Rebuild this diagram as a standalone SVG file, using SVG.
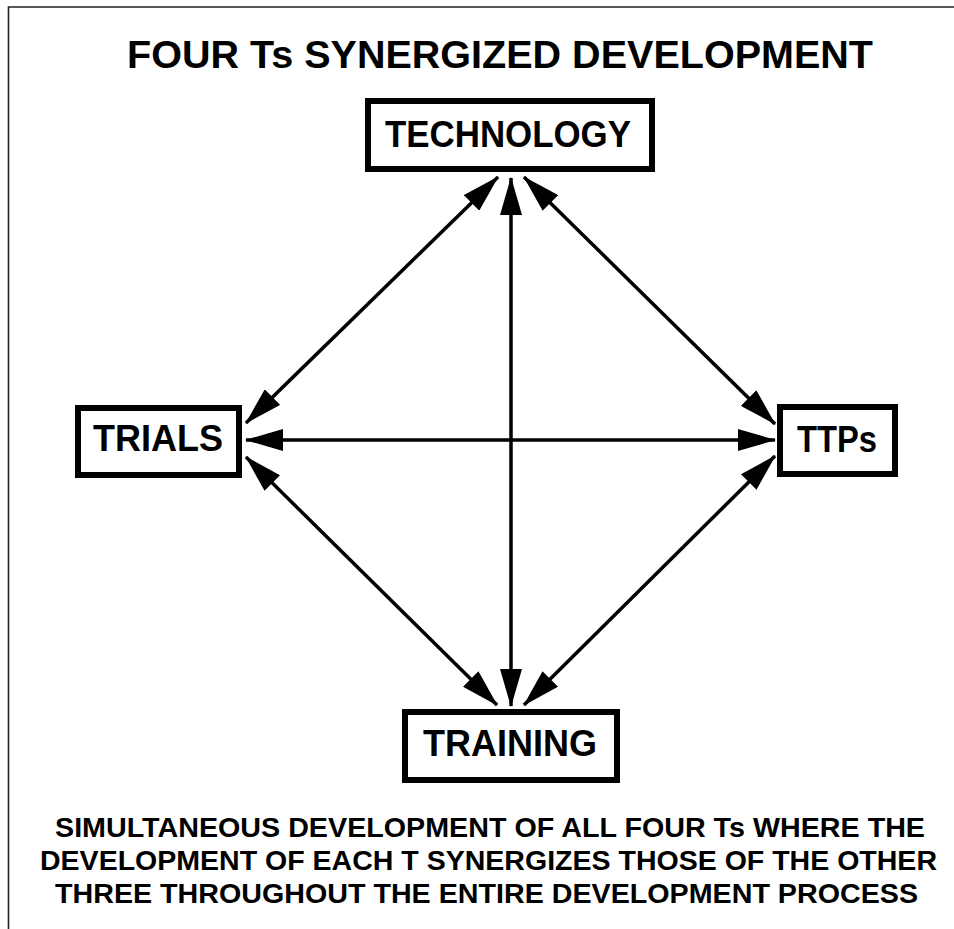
<svg xmlns="http://www.w3.org/2000/svg" width="954" height="929" viewBox="0 0 954 929">
<style>
text{font-family:"Liberation Sans",Arial,sans-serif;font-weight:bold;fill:#000;text-anchor:middle}
.box{fill:#fff;stroke:#000;stroke-width:6}
.lbl{font-size:36px}
.foot{font-size:27.5px}
.conn line{stroke:#000;stroke-width:3.5}
</style>
<defs>
<marker id="ah" viewBox="0 0 38 22" markerWidth="38" markerHeight="22" refX="37" refY="11" markerUnits="userSpaceOnUse" orient="auto-start-reverse">
<path d="M0,0 L38,11 L0,22 z" fill="#000"/>
</marker>
</defs>
<rect width="954" height="929" fill="#fff"/>
<path d="M8.5,929 V7 H954" fill="none" stroke="#222" stroke-width="1.6"/>
<text x="500" y="68" font-size="38" textLength="746" lengthAdjust="spacingAndGlyphs">FOUR Ts SYNERGIZED DEVELOPMENT</text>
<g class="conn">
<line x1="511" y1="178" x2="511" y2="706" marker-start="url(#ah)" marker-end="url(#ah)"/>
<line x1="246" y1="440" x2="775" y2="440" marker-start="url(#ah)" marker-end="url(#ah)"/>
<line x1="498" y1="177" x2="246" y2="423" marker-start="url(#ah)" marker-end="url(#ah)"/>
<line x1="524" y1="177" x2="775" y2="424" marker-start="url(#ah)" marker-end="url(#ah)"/>
<line x1="246" y1="457" x2="497" y2="705" marker-start="url(#ah)" marker-end="url(#ah)"/>
<line x1="775" y1="456" x2="524" y2="705" marker-start="url(#ah)" marker-end="url(#ah)"/>
</g>
<g id="technology"><rect class="box" x="368" y="101" width="284" height="68"/><text class="lbl" x="508" y="147" textLength="246" lengthAdjust="spacingAndGlyphs">TECHNOLOGY</text></g>
<g id="trials"><rect class="box" x="78" y="408" width="161" height="67"/><text class="lbl" x="158" y="451" textLength="130" lengthAdjust="spacingAndGlyphs">TRIALS</text></g>
<g id="ttps"><rect class="box" x="780" y="407" width="115" height="67"/><text class="lbl" x="837" y="452" textLength="80" lengthAdjust="spacingAndGlyphs">TTPs</text></g>
<g id="training"><rect class="box" x="405" y="712" width="212" height="68"/><text class="lbl" x="510" y="756" textLength="174" lengthAdjust="spacingAndGlyphs">TRAINING</text></g>
<text class="foot" x="490" y="837" textLength="870" lengthAdjust="spacingAndGlyphs">SIMULTANEOUS DEVELOPMENT OF ALL FOUR Ts WHERE THE</text>
<text class="foot" x="488.5" y="870" textLength="897" lengthAdjust="spacingAndGlyphs">DEVELOPMENT OF EACH T SYNERGIZES THOSE OF THE OTHER</text>
<text class="foot" x="486.5" y="903" textLength="863" lengthAdjust="spacingAndGlyphs">THREE THROUGHOUT THE ENTIRE DEVELOPMENT PROCESS</text>
</svg>
